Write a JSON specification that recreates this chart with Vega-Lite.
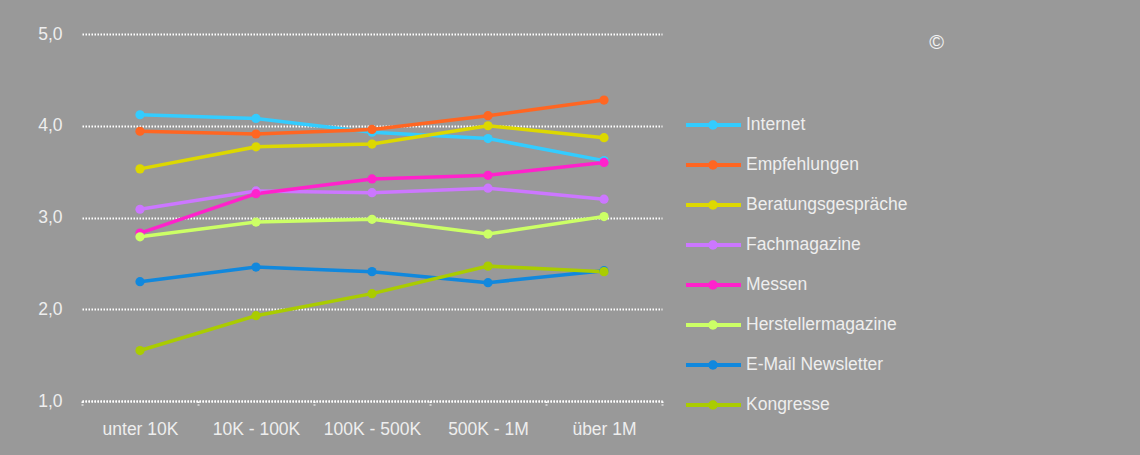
{
  "$schema": "https://vega.github.io/schema/vega-lite/v6.json",
  "autosize": "none",
  "width": 580,
  "height": 367,
  "padding": {"left": 82, "top": 34, "right": 478, "bottom": 54},
  "background": "#999999",
  "title": {"text": "©", "anchor": "end", "orient": "top", "frame": "group", "dx": 282, "dy": 32, "fontSize": 20, "color": "#F2F2F2", "font": "Liberation Sans", "fontWeight": "normal"},
  "config": {
    "view": {"stroke": null},
    "font": "Liberation Sans",
    "axis": {"labelFont": "Liberation Sans", "labelFontSize": 17.5, "labelColor": "#EEEEEE"}
  },
  "data": {"values": [
    {"Kanal": "Internet", "Umsatz": "unter 10K", "Wert": 4.12},
    {"Kanal": "Internet", "Umsatz": "10K - 100K", "Wert": 4.08},
    {"Kanal": "Internet", "Umsatz": "100K - 500K", "Wert": 3.93},
    {"Kanal": "Internet", "Umsatz": "500K - 1M", "Wert": 3.86},
    {"Kanal": "Internet", "Umsatz": "über 1M", "Wert": 3.62},
    {"Kanal": "Empfehlungen", "Umsatz": "unter 10K", "Wert": 3.94},
    {"Kanal": "Empfehlungen", "Umsatz": "10K - 100K", "Wert": 3.91},
    {"Kanal": "Empfehlungen", "Umsatz": "100K - 500K", "Wert": 3.96},
    {"Kanal": "Empfehlungen", "Umsatz": "500K - 1M", "Wert": 4.11},
    {"Kanal": "Empfehlungen", "Umsatz": "über 1M", "Wert": 4.28},
    {"Kanal": "Beratungsgespräche", "Umsatz": "unter 10K", "Wert": 3.53},
    {"Kanal": "Beratungsgespräche", "Umsatz": "10K - 100K", "Wert": 3.77},
    {"Kanal": "Beratungsgespräche", "Umsatz": "100K - 500K", "Wert": 3.80},
    {"Kanal": "Beratungsgespräche", "Umsatz": "500K - 1M", "Wert": 4.00},
    {"Kanal": "Beratungsgespräche", "Umsatz": "über 1M", "Wert": 3.87},
    {"Kanal": " Fachmagazine", "Umsatz": "unter 10K", "Wert": 3.09},
    {"Kanal": " Fachmagazine", "Umsatz": "10K - 100K", "Wert": 3.29},
    {"Kanal": " Fachmagazine", "Umsatz": "100K - 500K", "Wert": 3.27},
    {"Kanal": " Fachmagazine", "Umsatz": "500K - 1M", "Wert": 3.32},
    {"Kanal": " Fachmagazine", "Umsatz": "über 1M", "Wert": 3.20},
    {"Kanal": "Messen", "Umsatz": "unter 10K", "Wert": 2.83},
    {"Kanal": "Messen", "Umsatz": "10K - 100K", "Wert": 3.26},
    {"Kanal": "Messen", "Umsatz": "100K - 500K", "Wert": 3.42},
    {"Kanal": "Messen", "Umsatz": "500K - 1M", "Wert": 3.46},
    {"Kanal": "Messen", "Umsatz": "über 1M", "Wert": 3.60},
    {"Kanal": "Herstellermagazine", "Umsatz": "unter 10K", "Wert": 2.79},
    {"Kanal": "Herstellermagazine", "Umsatz": "10K - 100K", "Wert": 2.95},
    {"Kanal": "Herstellermagazine", "Umsatz": "100K - 500K", "Wert": 2.98},
    {"Kanal": "Herstellermagazine", "Umsatz": "500K - 1M", "Wert": 2.82},
    {"Kanal": "Herstellermagazine", "Umsatz": "über 1M", "Wert": 3.01},
    {"Kanal": "E-Mail Newsletter", "Umsatz": "unter 10K", "Wert": 2.30},
    {"Kanal": "E-Mail Newsletter", "Umsatz": "10K - 100K", "Wert": 2.46},
    {"Kanal": "E-Mail Newsletter", "Umsatz": "100K - 500K", "Wert": 2.41},
    {"Kanal": "E-Mail Newsletter", "Umsatz": "500K - 1M", "Wert": 2.29},
    {"Kanal": "E-Mail Newsletter", "Umsatz": "über 1M", "Wert": 2.42},
    {"Kanal": "Kongresse", "Umsatz": "unter 10K", "Wert": 1.55},
    {"Kanal": "Kongresse", "Umsatz": "10K - 100K", "Wert": 1.93},
    {"Kanal": "Kongresse", "Umsatz": "100K - 500K", "Wert": 2.17},
    {"Kanal": "Kongresse", "Umsatz": "500K - 1M", "Wert": 2.47},
    {"Kanal": "Kongresse", "Umsatz": "über 1M", "Wert": 2.41}
  ]},
  "encoding": {
    "x": {
      "field": "Umsatz", "type": "nominal",
      "sort": ["unter 10K", "10K - 100K", "100K - 500K", "500K - 1M", "über 1M"],
      "scale": {"paddingInner": 0, "paddingOuter": 0},
      "axis": {
        "title": null, "labelAngle": 0, "labelPadding": 15,
        "domain": true, "domainColor": "#FFFFFF", "domainWidth": 2, "domainDash": [1.5, 1.5],
        "ticks": true, "tickBand": "extent", "tickSize": 4, "tickColor": "#FFFFFF", "tickWidth": 2, "tickDash": [1.5, 1.5],
        "grid": false
      }
    },
    "y": {
      "field": "Wert", "type": "quantitative",
      "scale": {"domain": [1, 5], "nice": false, "zero": false},
      "axis": {
        "title": null, "values": [1, 2, 3, 4, 5], "domain": false, "ticks": false,
        "labelPadding": 20,
        "labelExpr": "replace(format(datum.value, '.1f'), '.', ',')",
        "grid": true, "gridColor": "#FFFFFF", "gridWidth": 2, "gridDash": [1.5, 1.5], "gridOpacity": 1
      }
    },
    "color": {
      "field": "Kanal", "type": "nominal",
      "scale": {
        "domain": ["Internet", "Empfehlungen", "Beratungsgespräche", " Fachmagazine", "Messen", "Herstellermagazine", "E-Mail Newsletter", "Kongresse"],
        "range": ["#33CCFF", "#FF6622", "#DDD800", "#CC77FF", "#FF22CC", "#CCFF66", "#1188DD", "#AACC00"]
      },
      "legend": {
        "title": null, "orient": "none", "legendX": 604, "legendY": 81,
        "padding": 0, "rowPadding": 21,
        "symbolType": "M-1,-0.2 L4.5,-0.2 L4.5,0.2 L-1,0.2 Z M1.23,0 A0.47,0.47 0 1,1 2.17,0 A0.47,0.47 0 1,1 1.23,0 Z",
        "symbolSize": 400, "symbolStrokeWidth": 0, "symbolOpacity": 1,
        "labelOffset": 40, "labelFont": "Liberation Sans", "labelFontSize": 17.5, "labelColor": "#EEEEEE", "labelLimit": 300,
        "labelExpr": "indexof(datum.label, 'Fachmagazine') >= 0 ? '\u2002Fachmagazine' : datum.label",
        "encode": {"symbols": {"update": {"fill": {"scale": "color", "field": "value"}, "stroke": {"value": "transparent"}}}}
      }
    }
  },
  "layer": [
    {"mark": {"type": "line", "strokeWidth": 3.5}},
    {"mark": {"type": "circle", "size": 85, "opacity": 1}}
  ]
}
